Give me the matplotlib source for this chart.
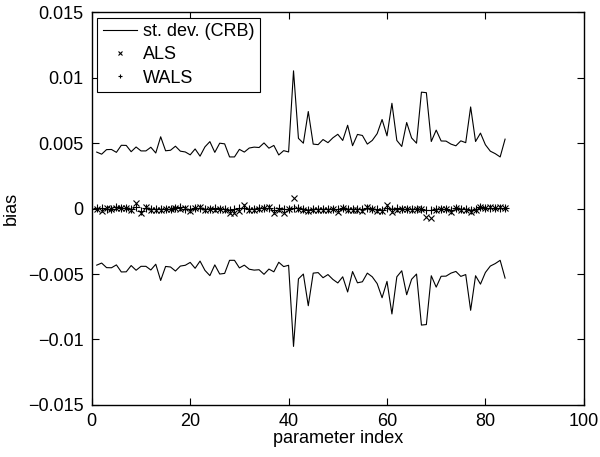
import numpy as np
import matplotlib
matplotlib.use("Agg")
import matplotlib.pyplot as plt
from matplotlib.ticker import FuncFormatter

# CRB standard deviation (x1e-3), parameter index 1..84
std_crb = [4.32, 4.16, 4.51, 4.52, 4.30, 4.84, 4.83, 4.35, 4.71, 4.41,
           4.41, 4.69, 4.25, 5.49, 4.42, 4.46, 4.77, 4.39, 4.33, 4.11,
           4.56, 4.01, 4.72, 5.12, 4.30, 5.00, 4.95, 3.95, 3.95, 4.53,
           4.32, 4.63, 4.70, 4.67, 5.02, 4.62, 4.83, 4.10, 4.43, 4.33,
           10.53, 5.37, 5.00, 7.42, 4.93, 4.89, 5.28, 5.04, 5.41, 5.68,
           5.21, 6.37, 4.81, 5.67, 5.59, 4.93, 5.21, 5.73, 6.81, 5.56,
           8.05, 5.21, 4.75, 6.58, 5.40, 5.00, 8.90, 8.86, 5.13, 6.00,
           5.17, 5.16, 4.93, 4.80, 5.18, 5.04, 7.77, 5.13, 5.77, 4.88,
           4.39, 4.20, 3.95, 5.31]

# ALS bias (x1e-4)
als_bias = [-0.5, -1.5, 0.3, -0.5, 0.8, 0.5, 0.2, -0.8, 4.5, -3.5,
            1.0, -1.0, -0.8, -1.2, -0.5, -0.6, 0.2, -0.3, 0.5, -1.8,
            0.8, 1.5, -0.8, -0.5, -0.7, -0.5, -1.0, -3.0, -3.5, -1.5,
            2.5, -1.0, -1.2, -0.5, 0.5, 1.0, -3.2, -0.8, -3.0, -0.5,
            8.0, -0.3, -1.2, -1.5, -1.0, -1.3, -0.8, -0.9, -0.6, -2.5,
            0.5, -0.7, -1.0, -0.8, -1.5, 1.2, -0.5, -1.5, -1.8, 2.8,
            -2.5, -1.0, -0.5, -0.6, -0.7, -0.5, -0.3, -6.5, -7.0, -0.8,
            -0.5, -0.5, -2.8, 0.8, -1.0, -1.0, -2.5, -0.8, 1.2, 0.8,
            1.0, 0.5, 1.2, 0.3]

# WALS bias (x1e-4)
wals_bias = [0.3, 0.5, 0.0, -0.3, 1.0, 0.5, 0.6, 0.0, 1.5, -2.0,
             0.2, -0.6, -0.5, -0.3, -0.2, 0.0, 0.5, 1.5, 0.0, -0.5,
             0.8, 0.3, -0.3, -0.2, 0.3, -0.5, 0.0, -0.8, -0.4, 0.5,
             0.5, -0.6, -0.3, 0.5, 0.2, 0.3, -1.0, 0.8, -0.6, -0.4,
             0.2, 0.2, -0.5, -0.8, -0.5, -0.2, -0.3, -0.4, 0.0, -0.6,
             0.2, -0.4, -0.5, -0.3, -0.3, 0.6, 0.0, -0.5, -1.0, 0.8,
             -0.5, 0.1, 0.0, -0.4, -0.3, -0.5, -0.4, -1.0, -1.0, -0.3,
             0.0, -0.4, -1.2, 0.6, -0.5, -0.2, -1.0, -0.4, 1.0, 0.8,
             0.5, 0.6, 0.7, 0.5]

xticks = [0, 20, 40, 60, 80, 100]
yticks = [-0.015, -0.01, -0.005, 0, 0.005, 0.01, 0.015]

plt.rcParams['font.family'] = ['Liberation Sans', 'DejaVu Sans']

idx = np.arange(1, len(std_crb) + 1)
sd = np.array(std_crb) * 1e-3
als = np.array(als_bias) * 1e-4
wals = np.array(wals_bias) * 1e-4

fig = plt.figure(figsize=(6.0, 4.57), dpi=100)
ax = fig.add_axes([0.153, 0.114, 0.82, 0.859])

l1, = ax.plot(idx, sd, color='black', lw=0.8, label='st. dev. (CRB)')
ax.plot(idx, -sd, color='black', lw=0.8)
l2, = ax.plot(idx, als, ls='none', marker='x', ms=5, mew=0.8, color='black', label='ALS')
l3, = ax.plot(idx, wals, ls='none', marker='+', ms=6, mew=0.8, color='black', label='WALS')

ax.set_xlim(0, 100)
ax.set_ylim(-0.015, 0.015)
ax.set_xticks(xticks)
ax.set_yticks(yticks)
ax.yaxis.set_major_formatter(FuncFormatter(lambda v, p: ('%g' % v).replace('-', '\u2212')))
ax.tick_params(direction='in', top=True, right=True, length=5, width=0.8, labelsize=13,
               colors='black', pad=6)
for s in ax.spines.values():
    s.set_linewidth(1.0)
ax.set_xlabel('parameter index', fontsize=13, labelpad=0)
ax.set_ylabel('bias', fontsize=13, labelpad=6)

leg = ax.legend(handles=[l1, l2, l3], loc='upper left', fontsize=13, fancybox=False,
                framealpha=1, edgecolor='black', handlelength=1.9, handletextpad=0.35,
                borderpad=0.3, labelspacing=0.35, borderaxespad=0.3, markerscale=0.6)
leg.get_frame().set_linewidth(0.8)

fig.savefig('out.png', dpi=100)
